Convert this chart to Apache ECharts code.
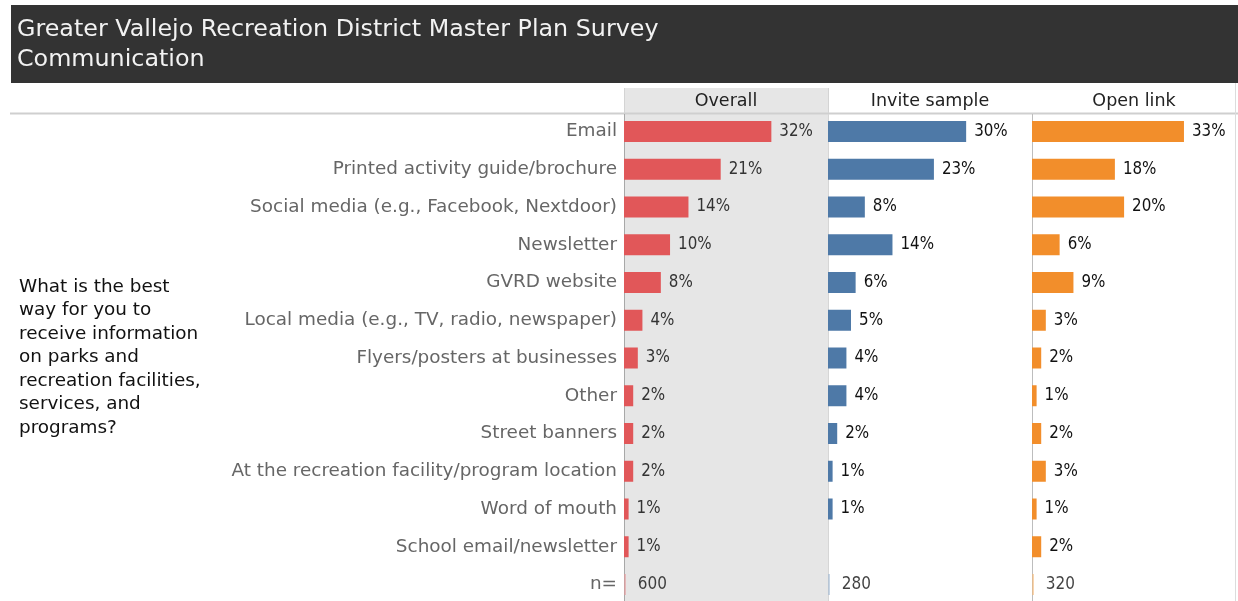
<!DOCTYPE html>
<html>
<head>
<meta charset="utf-8">
<script src="https://cdn.jsdelivr.net/npm/echarts@6/dist/echarts.min.js"></script>
<style>
  html, body { margin: 0; padding: 0; background: #fff; }
  #chart { width: 1238px; height: 601px; }
</style>
</head>
<body>
<div id="chart"></div>
<script>
// Survey results: share of respondents picking each communication channel
const titleText = 'Greater Vallejo Recreation District Master Plan Survey\nCommunication';
const questionText = 'What is the best\nway for you to\nreceive information\non parks and\nrecreation facilities,\nservices, and\nprograms?';
const categories = [
  'Email',
  'Printed activity guide/brochure',
  'Social media (e.g., Facebook, Nextdoor)',
  'Newsletter',
  'GVRD website',
  'Local media (e.g., TV, radio, newspaper)',
  'Flyers/posters at businesses',
  'Other',
  'Street banners',
  'At the recreation facility/program location',
  'Word of mouth',
  'School email/newsletter'
];
const nRowLabel = 'n=';
const panelNames = ['Overall', 'Invite sample', 'Open link'];
const overall = [32, 21, 14, 10, 8, 4, 3, 2, 2, 2, 1, 1];
const inviteSample = [30, 23, 8, 14, 6, 5, 4, 4, 2, 1, 1, null];
const openLink = [33, 18, 20, 6, 9, 3, 2, 1, 2, 3, 1, 2];
const sampleSizes = [600, 280, 320];

const panelValues = [overall, inviteSample, openLink];
const barColors = ['#e15759', '#4e79a7', '#f28e2b'];
const thinColors = ['#e79a9b', '#a3bad3', '#f5b978'];
const labelColors = ['#333333', '#111111', '#111111'];

const SANS = '"DejaVu Sans", sans-serif';
const NARROW = '"DejaVu Sans Condensed", "DejaVu Sans", sans-serif';
const panelLeft = [624, 828, 1032];
const panelWidth = 204;
const firstRowY = 131.5;
const lastRowY = 584.5;
const rowLabels = categories.concat([nRowLabel]);

const chart = echarts.init(document.getElementById('chart'), null, { renderer: 'canvas' });

const grids = [], xAxes = [], yAxes = [], series = [];
panelNames.forEach((name, i) => {
  grids.push({ left: panelLeft[i], width: panelWidth, top: firstRowY, height: lastRowY - firstRowY, containLabel: false });
  xAxes.push({ type: 'value', gridIndex: i, min: 0, max: 44.3, show: false });
  yAxes.push({
    type: 'category', gridIndex: i, data: rowLabels, inverse: true, boundaryGap: false,
    axisTick: { show: false },
    axisLine: { show: false },
    axisLabel: { show: i === 0, color: '#666666', fontSize: 18.4, fontFamily: SANS, margin: 7 },
    splitLine: { show: false }
  });
  series.push({
    name: name, type: 'bar', xAxisIndex: i, yAxisIndex: i,
    data: panelValues[i].concat([null]),
    barWidth: 21,
    itemStyle: { color: barColors[i] },
    label: {
      show: true, position: 'right', distance: 8,
      color: labelColors[i], fontSize: 16.8, fontFamily: NARROW,
      formatter: p => p.value + '%'
    },
    silent: true
  });
  // sample-size row: a hairline marker at zero with the respondent count beside it
  series.push({
    name: name + ' n', type: 'scatter', xAxisIndex: i, yAxisIndex: i,
    data: [[0, rowLabels.length - 1]],
    symbol: 'rect', symbolSize: [1.5, 21], symbolOffset: [1, 0],
    itemStyle: { color: thinColors[i] },
    label: {
      show: true, position: 'right', distance: 12,
      color: '#111111', fontSize: 17, fontFamily: NARROW,
      formatter: () => String(sampleSizes[i])
    },
    silent: true
  });
});

const graphics = [
  // title banner
  { type: 'rect', shape: { x: 11, y: 5, width: 1227, height: 78 }, style: { fill: '#333333' }, z: 0 },
  { type: 'text', x: 17, y: 15, style: { text: titleText, fill: '#f2f2f2', font: '23.8px ' + SANS, lineHeight: 30, textVerticalAlign: 'top' }, z: 1 },
  // shaded Overall column
  { type: 'rect', shape: { x: panelLeft[0], y: 88, width: panelWidth, height: 520 }, style: { fill: '#e6e6e6' }, z: -1 },
  // header separator and column borders
  { type: 'line', shape: { x1: 10, y1: 113.5, x2: 1238, y2: 113.5 }, style: { stroke: '#cfcfcf', lineWidth: 2 }, z: 0 },
  { type: 'line', shape: { x1: 624.5, y1: 88, x2: 624.5, y2: 113 }, style: { stroke: '#d4d4d4', lineWidth: 1 }, z: 0 },
  { type: 'line', shape: { x1: 624.5, y1: 114, x2: 624.5, y2: 601 }, style: { stroke: '#a8a8a8', lineWidth: 1 }, z: 0 },
  { type: 'line', shape: { x1: 828.5, y1: 88, x2: 828.5, y2: 113 }, style: { stroke: '#d4d4d4', lineWidth: 1 }, z: 0 },
  { type: 'line', shape: { x1: 828.5, y1: 114, x2: 828.5, y2: 601 }, style: { stroke: '#d6d6d6', lineWidth: 1 }, z: 0 },
  { type: 'line', shape: { x1: 1032.5, y1: 114, x2: 1032.5, y2: 601 }, style: { stroke: '#bdbdbd', lineWidth: 1 }, z: 0 },
  { type: 'line', shape: { x1: 1235.5, y1: 83, x2: 1235.5, y2: 601 }, style: { stroke: '#dcdcdc', lineWidth: 1 }, z: 0 },
  // question text
  { type: 'text', x: 19, y: 275, style: { text: questionText, fill: '#111111', font: '18.4px ' + SANS, lineHeight: 23.5, textVerticalAlign: 'top' }, z: 1 }
];
panelNames.forEach((name, i) => {
  graphics.push({
    type: 'text', x: panelLeft[i] + panelWidth / 2, y: 101,
    style: { text: name, fill: '#222222', font: '17.5px ' + SANS, textAlign: 'center', textVerticalAlign: 'middle' }, z: 1
  });
});

chart.setOption({
  animation: false,
  backgroundColor: '#ffffff',
  grid: grids,
  xAxis: xAxes,
  yAxis: yAxes,
  series: series,
  graphic: graphics
});
</script>
</body>
</html>
